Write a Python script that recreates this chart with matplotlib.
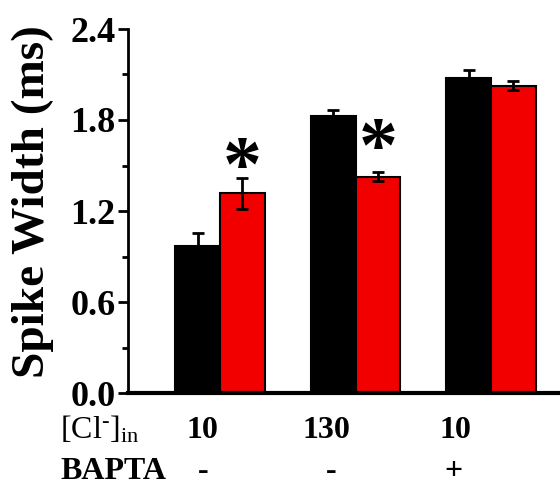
import matplotlib
matplotlib.use('Agg')
import matplotlib.pyplot as plt
import matplotlib.transforms as mtransforms
import numpy as np
from matplotlib.ticker import MultipleLocator

# data
groups = ['10', '130', '10']
bapta = ['-', '-', '+']
control = [0.967, 1.827, 2.077]
control_err = [0.09, 0.04, 0.05]
treated = [1.316, 1.425, 2.026]
treated_err = [0.10, 0.03, 0.03]
star_y = [1.55, 1.68, None]   # height of the significance marks

plt.rcParams['font.family'] = ['Liberation Serif', 'DejaVu Serif']
plt.rcParams['font.weight'] = 'bold'
plt.rcParams['mathtext.fontset'] = 'custom'
plt.rcParams['mathtext.rm'] = 'Liberation Serif:normal'
plt.rcParams['mathtext.it'] = 'Liberation Serif:italic:normal'
plt.rcParams['mathtext.bf'] = 'Liberation Serif:bold'

fig = plt.figure(figsize=(5.6, 4.86), dpi=100)
ax = fig.add_axes([128 / 560, 93 / 486, 432 / 560, 364 / 486])

x = np.arange(len(groups))
w = 0.33
ekw = dict(ecolor='black', elinewidth=2, capsize=4, capthick=2)
ax.bar(x - w / 2, control, w, color='black', edgecolor='black', linewidth=1.5,
       yerr=control_err, error_kw=ekw)
ax.bar(x + w / 2, treated, w, color='#f20000', edgecolor='black', linewidth=1.5,
       yerr=treated_err, error_kw=ekw)

# the glyph sits high in its box, nudge it down a bit
star_tr = ax.transData + mtransforms.ScaledTranslation(0, -13 / 100, fig.dpi_scale_trans)
for i, sy in enumerate(star_y):
    if sy is not None:
        ax.text(x[i] + w / 2, sy, '*', ha='center', va='center',
                fontsize=56, fontweight='bold', transform=star_tr)

ax.set_ylim(0, 2.4)
ax.set_xlim(-0.679, 2.509)
ax.yaxis.set_minor_locator(MultipleLocator(0.3))
ax.set_yticks([0, 0.6, 1.2, 1.8, 2.4])
ax.set_yticklabels(['0.0', '0.6', '1.2', '1.8', '2.4'])
ax.tick_params(axis='y', which='major', length=7, width=2, labelsize=26, pad=2)
ax.tick_params(axis='y', which='minor', length=4, width=2)
ax.tick_params(axis='x', bottom=False, labelbottom=False)
for s in ['top', 'right']:
    ax.spines[s].set_visible(False)
ax.spines['left'].set_linewidth(2)
ax.spines['bottom'].set_linewidth(3)

ax.set_ylabel('Spike Width (ms)', fontsize=34, fontweight='bold')
ax.yaxis.set_label_coords(-(128 - 54) / 432, (393 - 202) / 364)

# row labels under the axis
fig.text(60 / 560, 1 - 430 / 486, r'$\mathrm{[Cl^{\text{-}}]_{in}}$', fontsize=23,
         ha='left', va='center')
fig.text(60 / 560, 1 - 471 / 486, 'BAPTA', fontsize=23, ha='left', va='center')
for px, g in zip([202, 326, 455], groups):
    fig.text(px / 560, 1 - 430 / 486, g, fontsize=23, ha='center', va='center')
for px, b in zip([203, 331, 453], bapta):
    fig.text(px / 560, 1 - 471 / 486, b, fontsize=23, ha='center', va='center')

fig.savefig('out.png', dpi=100)
